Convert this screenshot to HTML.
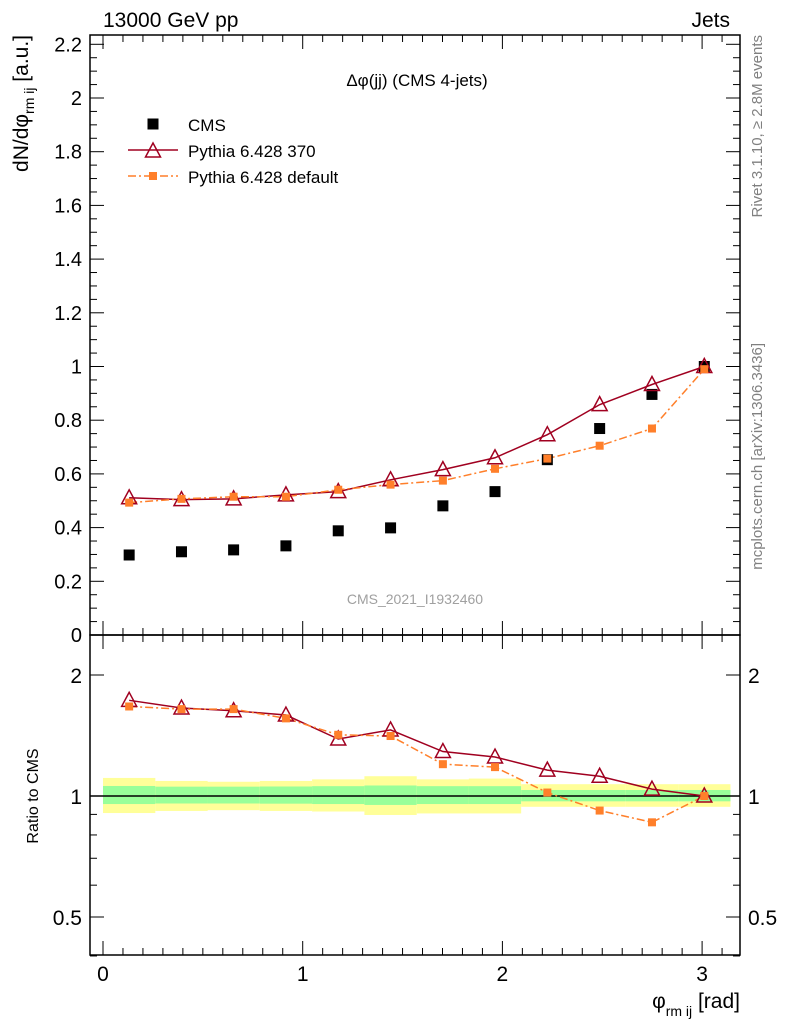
<!DOCTYPE html>
<html><head><meta charset="utf-8"><style>
body{margin:0;background:#fff;font-family:"Liberation Sans",sans-serif}
svg text{font-family:"Liberation Sans","DejaVu Sans",sans-serif}
</style></head><body>
<svg id="c" width="786" height="1024" xmlns="http://www.w3.org/2000/svg"></svg>
<script>
const binCenters=[0.131,0.393,0.654,0.916,1.178,1.440,1.702,1.963,2.225,2.487,2.749,3.011];
const binHalf=0.131;
const cmsVals=[0.298,0.31,0.317,0.332,0.388,0.399,0.481,0.534,0.653,0.769,0.896,1.0];
const p370Vals=[0.511,0.504,0.507,0.522,0.534,0.578,0.616,0.660,0.746,0.858,0.933,1.0];
const pdefVals=[0.493,0.507,0.515,0.515,0.541,0.560,0.575,0.619,0.657,0.705,0.769,0.99];
const p370Ratio=[1.73,1.655,1.63,1.59,1.386,1.46,1.29,1.25,1.16,1.12,1.04,1.0];
const pdefRatio=[1.67,1.645,1.645,1.56,1.42,1.41,1.2,1.18,1.02,0.92,0.86,1.0];
const yelUp=[1.109,1.09,1.085,1.09,1.10,1.12,1.10,1.105,1.07,1.07,1.07,1.07];
const yelDn=[0.907,0.918,0.922,0.918,0.915,0.897,0.905,0.905,0.94,0.94,0.94,0.94];
const grnUp=[1.059,1.055,1.055,1.056,1.058,1.062,1.058,1.058,1.035,1.035,1.035,1.035];
const grnDn=[0.955,0.958,0.958,0.957,0.955,0.95,0.955,0.955,0.97,0.97,0.97,0.97];
const mainTicks=[0,0.2,0.4,0.6,0.8,1,1.2,1.4,1.6,1.8,2,2.2];
const mainTickLabels=["0","0.2","0.4","0.6","0.8","1","1.2","1.4","1.6","1.8","2","2.2"];
const ratioTicks=[0.5,1,2];
const ratioTickLabels=["0.5","1","2"];
const xTicks=[0,1,2,3];
const xTickLabels=["0","1","2","3"];

const NS="http://www.w3.org/2000/svg";
const svg=document.getElementById('c');
const L=90,R=740,T1=35,B1=635,B2=955;
const X=v=>103+v*199.7;
const Y=v=>635-v*268.5;
const YR=v=>796-Math.log2(v)*121;
function el(t,a,p){const e=document.createElementNS(NS,t);for(const k in a)e.setAttribute(k,a[k]);(p||svg).appendChild(e);return e;}
function txt(s,a,nm){const e=el('text',a);e.textContent=s;return e;}

// bands
for(let i=0;i<binCenters.length;i++){
 const x0=X(binCenters[i]-binHalf),w=X(binCenters[i]+binHalf)-x0;
 let r=el('rect',{x:x0,y:YR(yelUp[i]),width:w,height:YR(yelDn[i])-YR(yelUp[i]),fill:'#ffff99'});
 
 r=el('rect',{x:x0,y:YR(grnUp[i]),width:w,height:YR(grnDn[i])-YR(grnUp[i]),fill:'#99ff99'});
 
}
let ln=el('line',{x1:L,x2:R,y1:YR(1),y2:YR(1),stroke:'#000','stroke-width':1.5});


// frames
let f=el('rect',{x:L,y:T1,width:R-L,height:B1-T1,fill:'none',stroke:'#000','stroke-width':1.5});

f=el('rect',{x:L,y:B1,width:R-L,height:B2-B1,fill:'none',stroke:'#000','stroke-width':1.5});


// x ticks
for(let v=0;v<=3.15;v+=0.1){
 const x=X(v),maj=Math.abs(v-Math.round(v))<1e-6,l=maj?14:7;
 [[B1,-1],[T1,1],[B2,-1],[B1,1]].forEach(([y,d])=>{const t=el('line',{x1:x,x2:x,y1:y,y2:y+d*l,stroke:'#000'});});
}
xTicks.forEach((v,i)=>txt(xTickLabels[i],{x:X(v),y:981,'text-anchor':'middle','font-size':21},'x-tick-label'));
// main y ticks
for(let v=0;v<=2.23;v+=0.05){
 const y=Y(v),maj=Math.abs(v*5-Math.round(v*5))<1e-6,l=maj?14:7;
 [[L,1],[R,-1]].forEach(([x,d])=>{const t=el('line',{x1:x,x2:x+d*l,y1:y,y2:y,stroke:'#000'});});
}
mainTicks.forEach((v,i)=>txt(mainTickLabels[i],{x:82,y:Y(v)+7,'text-anchor':'end','font-size':20},'y-tick-label'));
// ratio ticks
[0.4,0.5,0.6,0.7,0.8,0.9,1,2].forEach(v=>{const y=YR(v),maj=[0.5,1,2].includes(v),l=maj?14:7;
 [[L,1],[R,-1]].forEach(([x,d])=>{const t=el('line',{x1:x,x2:x+d*l,y1:y,y2:y,stroke:'#000'});});});
ratioTicks.forEach((v,i)=>{txt(ratioTickLabels[i],{x:82,y:YR(v)+8,'text-anchor':'end','font-size':21},'ratio-tick-label');
 txt(ratioTickLabels[i],{x:748,y:YR(v)+8,'font-size':21},'ratio-tick-label-right');});

// series main
function poly(xs,ys,col,dash,nm){const p=el('polyline',{points:xs.map((x,i)=>x+','+ys[i]).join(' '),fill:'none',stroke:col,'stroke-width':1.5,'stroke-dasharray':dash||''});}
function tri(x,y,nm){const p=el('polygon',{points:`${x},${y-8} ${x-7.5},${y+6} ${x+7.5},${y+6}`,fill:'none',stroke:'#a00020','stroke-width':1.5});}
function sq(x,y,s,c,nm){const r=el('rect',{x:x-s/2,y:y-s/2,width:s,height:s,fill:c});}
const xs=binCenters.map(X);
poly(xs,p370Vals.map(Y),'#a00020','','pythia370-line');
poly(xs,pdefVals.map(Y),'#ff7f2a','8,3,2,3','pythia-default-line');
binCenters.forEach((c,i)=>{sq(X(c),Y(cmsVals[i]),11,'#000','cms-point');tri(X(c),Y(p370Vals[i]),'pythia370-marker');sq(X(c),Y(pdefVals[i]),8,'#ff7f2a','pythia-default-marker');});
poly(xs,p370Ratio.map(YR),'#a00020','','pythia370-ratio-line');
poly(xs,pdefRatio.map(YR),'#ff7f2a','8,3,2,3','pythia-default-ratio-line');
binCenters.forEach((c,i)=>{tri(X(c),YR(p370Ratio[i]),'pythia370-ratio-marker');sq(X(c),YR(pdefRatio[i]),8,'#ff7f2a','pythia-default-ratio-marker');});

// legend
sq(153,124,11,'#000','legend-cms-marker');
txt('CMS',{x:188,y:131,'font-size':17},'legend-cms-label');
ln=el('line',{x1:128,x2:178,y1:150,y2:150,stroke:'#a00020','stroke-width':1.5});
tri(153,151,'legend-370-marker');
txt('Pythia 6.428 370',{x:188,y:157,'font-size':17},'legend-370-label');
ln=el('line',{x1:128,x2:178,y1:176,y2:176,stroke:'#ff7f2a','stroke-width':1.5,'stroke-dasharray':'8,3,2,3'});
sq(153,176,8,'#ff7f2a','legend-default-marker');
txt('Pythia 6.428 default',{x:188,y:183,'font-size':17},'legend-default-label');

// texts
txt('13000 GeV pp',{x:103,y:27,'font-size':21},'beam-label');
txt('Jets',{x:730,y:27,'font-size':21,'text-anchor':'end'},'process-label');
txt('Δφ(jj) (CMS 4-jets)',{x:417,y:86,'font-size':17,'text-anchor':'middle'},'plot-title');
txt('CMS_2021_I1932460',{x:415,y:604,'font-size':14,'text-anchor':'middle',fill:'#a0a0a0'},'analysis-watermark');
txt('Ratio to CMS',{x:38,y:796,'font-size':16,'text-anchor':'middle',transform:'rotate(-90 38 796)'},'ratio-y-title');
const yt=txt('',{x:28,y:35,'font-size':21,'text-anchor':'end',transform:'rotate(-90 28 35)'},'y-axis-title');
yt.innerHTML='dN/dφ<tspan font-size="14" dy="6">rm ij</tspan><tspan dy="-6"> [a.u.]</tspan>';
const xt=txt('',{x:740,y:1008,'font-size':21,'text-anchor':'end'},'x-axis-title');
xt.innerHTML='φ<tspan font-size="14" dy="8">rm ij</tspan><tspan dy="-8"> [rad]</tspan>';
txt('Rivet 3.1.10, ≥ 2.8M events',{x:762,y:35,'font-size':15,fill:'#808080','text-anchor':'end',transform:'rotate(-90 762 35)'},'rivet-label');
txt('mcplots.cern.ch [arXiv:1306.3436]',{x:762,y:343,'font-size':15,fill:'#808080','text-anchor':'end',transform:'rotate(-90 762 343)'},'mcplots-label');
</script>
</body></html>
